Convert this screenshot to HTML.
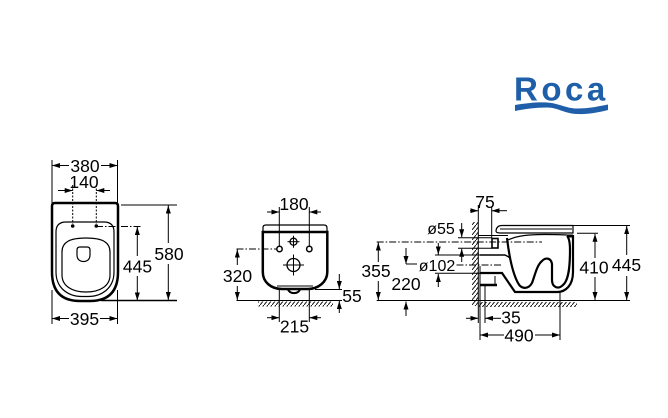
<!DOCTYPE html>
<html><head><meta charset="utf-8"><style>
html,body{margin:0;padding:0;background:#fff;}
svg{display:block;}
text{font-family:"Liberation Sans",Arial,sans-serif;font-size:17.5px;fill:#000;}
.s{font-size:16px;}
</style></head><body>
<svg width="668" height="418" viewBox="0 0 668 418" xmlns="http://www.w3.org/2000/svg">
<defs>
<marker id="a" viewBox="0 0 8 5" refX="8" refY="2.5" markerWidth="8" markerHeight="5" markerUnits="userSpaceOnUse" orient="auto"><path d="M0,0 L8,2.5 L0,5 z" fill="#000"/></marker>
<pattern id="h" width="4" height="5" patternUnits="userSpaceOnUse"><path d="M-0.8,6 L4.8,-1" stroke="#000" stroke-width="0.9"/></pattern>
</defs>
<rect width="668" height="418" fill="#fff"/>

<!-- Roca logo -->
<text x="514" y="100.5" style="font-size:33px;font-weight:bold;fill:#1f5fa9;letter-spacing:3.5px">Roca</text>
<path d="M515,105 C527,103 537,102 547,102.5 C560,103.5 566,108.5 577,108.5 C590,108.5 600,106 608,104.5 L608,110 C598,112.5 588,114.5 577,114 C564,113.5 558,107.5 547,107.5 C535,107.5 525,109 515,111 Z" fill="#1f5fa9"/>

<!-- ============ FRONT VIEW ============ -->
<g fill="none" stroke="#000" stroke-width="1">
  <!-- 380 -->
  <line x1="52" y1="160" x2="52" y2="203"/>
  <line x1="117.5" y1="160" x2="117.5" y2="203"/>
  <line x1="69" y1="165.5" x2="52" y2="165.5" marker-end="url(#a)"/>
  <line x1="101" y1="165.5" x2="117.5" y2="165.5" marker-end="url(#a)"/>
  <!-- 140 -->
  <line x1="72.7" y1="185" x2="72.7" y2="224" stroke-dasharray="2,1.5"/>
  <line x1="96.3" y1="185" x2="96.3" y2="224" stroke-dasharray="2,1.5"/>
  <line x1="58" y1="190.5" x2="72.7" y2="190.5" marker-end="url(#a)"/>
  <line x1="110" y1="190.5" x2="96.3" y2="190.5" marker-end="url(#a)"/>
  <!-- bowl -->
  <path d="M52,206 Q52,203 55,203 L115,203 Q118,203 118,206 L118,272 C118,292 108,301 90,301 L80,301 C62,301 52,292 52,272 Z" stroke-width="2.5"/>
  <path d="M56,232 Q56,222 66,222 L104,222 Q114,222 114,232 L114,272 C114,288 102,296.5 88,296.5 L82,296.5 C68,296.5 56,288 56,272 Z" stroke-width="1.2"/>
  <path d="M62,252 C62,242 70,238 86,238 C102,238 110,242 110,252 L110,275 C110,286 100,292 86,292 C72,292 62,286 62,275 Z" stroke-width="1.2"/>
  <path d="M77,250 Q77,247 80,247 L87,247 Q90,247 90,250 L90,255 C90,259.5 87,261.5 83.5,261.5 C80,261.5 77,259.5 77,255 Z" stroke-width="1.2"/>
  <!-- 445 / 580 -->
  <line x1="96" y1="226.5" x2="141" y2="226.5" stroke-dasharray="7,2,1.5,2"/>
  <line x1="137.3" y1="256" x2="137.3" y2="227" marker-end="url(#a)"/>
  <line x1="137.3" y1="276" x2="137.3" y2="300.5" marker-end="url(#a)"/>
  <line x1="121" y1="205" x2="177" y2="205"/>
  <line x1="101" y1="300.5" x2="177" y2="300.5" stroke-width="1.5"/>
  <line x1="168.3" y1="243" x2="168.3" y2="205.5" marker-end="url(#a)"/>
  <line x1="168.3" y1="264" x2="168.3" y2="300" marker-end="url(#a)"/>
  <!-- 395 -->
  <line x1="52" y1="290" x2="52" y2="324"/>
  <line x1="117.5" y1="290" x2="117.5" y2="324"/>
  <line x1="69" y1="318.5" x2="52" y2="318.5" marker-end="url(#a)"/>
  <line x1="100" y1="318.5" x2="117.5" y2="318.5" marker-end="url(#a)"/>
</g>
<circle cx="72.7" cy="226" r="1.8" fill="#000"/>
<circle cx="96.3" cy="226" r="1.8" fill="#000"/>
<text x="85" y="172" text-anchor="middle">380</text>
<text x="84" y="188" text-anchor="middle">140</text>
<text x="137.5" y="272.5" text-anchor="middle">445</text>
<text x="169" y="260" text-anchor="middle">580</text>
<text x="84.5" y="325" text-anchor="middle">395</text>

<!-- ============ BACK VIEW ============ -->
<g fill="none" stroke="#000" stroke-width="1">
  <!-- 180 -->
  <line x1="279.3" y1="207" x2="279.3" y2="246.5"/>
  <line x1="309.3" y1="207" x2="309.3" y2="246.5"/>
  <line x1="267" y1="212" x2="279.3" y2="212" marker-end="url(#a)"/>
  <line x1="321" y1="212" x2="309.3" y2="212" marker-end="url(#a)"/>
  <!-- lid -->
  <path d="M263,227.5 Q263,225 266,225 L324,225 Q327,225 327,228 L327,232 L263,232 Z" stroke-width="1.2"/>
  <!-- body -->
  <path d="M262.8,232 L262.8,272 C262.8,282 271,289 282,289 L308,289 C318,289 327.3,282 327.3,272 L327.3,232 Z" stroke-width="2.5"/>
  <line x1="277" y1="286" x2="313" y2="286"/>
  <path d="M288,289 C289,294.5 299,294.5 300,289" stroke-width="2"/>
  <!-- holes -->
  <circle cx="279.5" cy="249" r="2.7" stroke-width="1.5" fill="#fff"/>
  <circle cx="309.3" cy="249" r="2.7" stroke-width="1.5" fill="#fff"/>
  <circle cx="293.5" cy="241.7" r="3.5" stroke-width="1.3"/>
  <line x1="287.5" y1="241.7" x2="299.5" y2="241.7"/>
  <line x1="293.5" y1="235.7" x2="293.5" y2="247.7"/>
  <circle cx="293.5" cy="265" r="6.5" stroke-width="1.3"/>
  <line x1="283" y1="265" x2="304" y2="265"/>
  <line x1="293.5" y1="254.5" x2="293.5" y2="275.5"/>
  <!-- 320 -->
  <line x1="236.5" y1="249" x2="276.5" y2="249" stroke-dasharray="7,2,1.5,2"/>
  <line x1="237.3" y1="265" x2="237.3" y2="249.5" marker-end="url(#a)"/>
  <line x1="237.3" y1="286" x2="237.3" y2="300" marker-end="url(#a)"/>
  <line x1="236.5" y1="300.5" x2="342" y2="300.5"/>
  <!-- 55 -->
  <line x1="315" y1="289.5" x2="342" y2="289.5"/>
  <line x1="339.3" y1="274" x2="339.3" y2="289" marker-end="url(#a)"/>
  <line x1="339.3" y1="313" x2="339.3" y2="301" marker-end="url(#a)"/>
  <!-- 215 -->
  <line x1="279.3" y1="290" x2="279.3" y2="322"/>
  <line x1="309.3" y1="290" x2="309.3" y2="322"/>
  <line x1="267" y1="317.7" x2="279.3" y2="317.7" marker-end="url(#a)"/>
  <line x1="321" y1="317.7" x2="309.3" y2="317.7" marker-end="url(#a)"/>
</g>
<rect x="258" y="301.5" width="75" height="5" fill="url(#h)"/>
<text x="294" y="210" text-anchor="middle">180</text>
<text x="237.5" y="282" text-anchor="middle">320</text>
<text x="352" y="302" text-anchor="middle">55</text>
<text x="294.5" y="332.5" text-anchor="middle">215</text>

<!-- ============ SIDE VIEW ============ -->
<rect x="472" y="222" width="6.3" height="84" fill="url(#h)"/>
<rect x="479" y="302" width="98" height="5" fill="url(#h)"/>
<g fill="none" stroke="#000" stroke-width="1">
  <!-- wall & floor -->
  <line x1="478.3" y1="205" x2="478.3" y2="323"/>
  <line x1="376.7" y1="300.5" x2="630" y2="300.5"/>
  <!-- 75 -->
  <line x1="470" y1="210.7" x2="478.3" y2="210.7" marker-end="url(#a)"/>
  <line x1="507" y1="210.7" x2="491.7" y2="210.7" marker-end="url(#a)"/>
  <line x1="491.7" y1="207" x2="491.7" y2="238"/>
  <!-- ø55 axis -->
  <line x1="376.7" y1="242" x2="542" y2="242" stroke-dasharray="7,2,1.5,2"/>
  <!-- 355 -->
  <line x1="378.3" y1="262" x2="378.3" y2="242.5" marker-end="url(#a)"/>
  <line x1="378.3" y1="281" x2="378.3" y2="300" marker-end="url(#a)"/>
  <!-- 220 -->
  <line x1="406" y1="248" x2="406" y2="264" marker-end="url(#a)"/>
  <line x1="406" y1="264" x2="417" y2="264"/>
  <line x1="406" y1="316" x2="406" y2="301.5" marker-end="url(#a)"/>
  <line x1="456.5" y1="265" x2="503" y2="265" stroke-dasharray="7,2,1.5,2"/>
  <!-- ø102 -->
  <line x1="435" y1="255" x2="480" y2="255"/>
  <line x1="435" y1="273.3" x2="480" y2="273.3"/>
  <line x1="438.3" y1="243" x2="438.3" y2="254.5" marker-end="url(#a)"/>
  <line x1="438.3" y1="287" x2="438.3" y2="274" marker-end="url(#a)"/>
  <!-- ø55 dim -->
  <line x1="458" y1="237.7" x2="492" y2="237.7"/>
  <line x1="458" y1="248.3" x2="492" y2="248.3"/>
  <line x1="461.7" y1="223" x2="461.7" y2="237.2" marker-end="url(#a)"/>
  <line x1="461.7" y1="262" x2="461.7" y2="248.8" marker-end="url(#a)"/>
  <!-- pipe fitting -->
  <rect x="492" y="238.5" width="6" height="9.5" stroke-width="1.6"/>
  <line x1="478.3" y1="235.5" x2="508" y2="235.5"/>
  <!-- lid -->
  <path d="M496,231 Q496.5,225.5 502,225.5 L573,225.5 L573,233 L500,233 Q496,233 496,231 Z" stroke-width="1.2"/>
  <line x1="500" y1="229" x2="572" y2="229"/>
  <line x1="573" y1="225.5" x2="630" y2="225.5"/>
  <!-- body -->
  <path d="M573,235 L573,272 C573,285 566,292 557,292 L515,292 L502,273 L480,273" stroke-width="2.2"/>
  <path d="M507,238 C509,255 512,272 518,283 C521,289 528,290 532,283 C535,275 537,265 542,261 C546,257 551,258 552,264 L552,280 C552,287 558,290 563,285 C569,280 570,265 570,250 C570,243 569,238 567,236" stroke-width="2.2"/>
  <path d="M480,255 L505,255 C507,256 509,257 510,258" stroke-width="1.5"/>
  <path d="M508,240 C520,234 540,234 567,235" stroke-width="1.2"/>
  <line x1="567" y1="236" x2="573" y2="236" stroke-width="3"/>
  <line x1="480" y1="285" x2="497" y2="285" stroke-width="2.5"/>
  <line x1="495" y1="276" x2="495" y2="285"/>
  <!-- 410 / 445 -->
  <line x1="577" y1="233.3" x2="598" y2="233.3"/>
  <line x1="595" y1="258" x2="595" y2="233.8" marker-end="url(#a)"/>
  <line x1="595" y1="277" x2="595" y2="300" marker-end="url(#a)"/>
  <line x1="626.7" y1="255" x2="626.7" y2="226" marker-end="url(#a)"/>
  <line x1="626.7" y1="276" x2="626.7" y2="300" marker-end="url(#a)"/>
  <!-- 35 -->
  <line x1="485" y1="285" x2="485" y2="323"/>
  <line x1="466" y1="318.3" x2="478.3" y2="318.3" marker-end="url(#a)"/>
  <line x1="501" y1="318.3" x2="485" y2="318.3" marker-end="url(#a)"/>
  <!-- 490 -->
  <line x1="480" y1="266" x2="480" y2="340"/>
  <line x1="560" y1="292" x2="560" y2="340"/>
  <line x1="504" y1="335" x2="480" y2="335" marker-end="url(#a)"/>
  <line x1="535" y1="335" x2="560" y2="335" marker-end="url(#a)"/>
</g>
<text x="485" y="208" text-anchor="middle">75</text>
<text class="s" x="441" y="234" text-anchor="middle">ø55</text>
<text class="s" x="437" y="271" text-anchor="middle">ø102</text>
<text x="376" y="277" text-anchor="middle">355</text>
<text x="406" y="290" text-anchor="middle">220</text>
<text x="594" y="273.5" text-anchor="middle">410</text>
<text x="626.5" y="271" text-anchor="middle">445</text>
<text x="511" y="323.5" text-anchor="middle">35</text>
<text x="519" y="341.5" text-anchor="middle">490</text>
</svg>
</body></html>
